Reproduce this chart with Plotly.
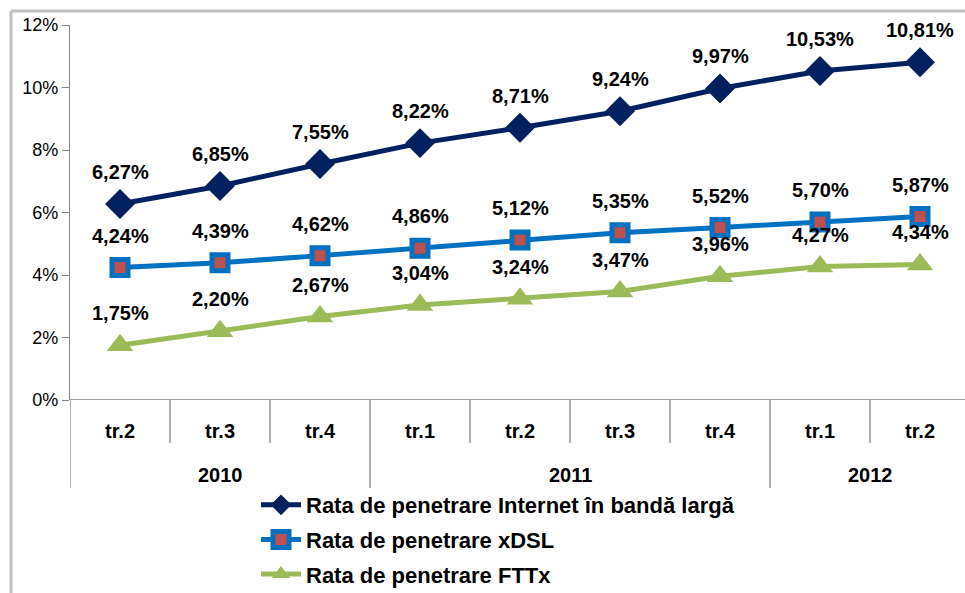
import plotly.graph_objects as go

quarters = ["tr.2", "tr.3", "tr.4", "tr.1", "tr.2", "tr.3", "tr.4", "tr.1", "tr.2"]
years = ["2010", "2011", "2012"]
year_counts = [3, 4, 2]

broadband = [6.27, 6.85, 7.55, 8.22, 8.71, 9.24, 9.97, 10.53, 10.81]
xdsl = [4.24, 4.39, 4.62, 4.86, 5.12, 5.35, 5.52, 5.70, 5.87]
fttx = [1.75, 2.20, 2.67, 3.04, 3.24, 3.47, 3.96, 4.27, 4.34]

series_names = [
    "Rata de penetrare Internet în bandă largă",
    "Rata de penetrare xDSL",
    "Rata de penetrare FTTx",
]

W, H = 965, 593
ML, MR, MT, MB = 70, 0, 25, 193
PW, PH = W - ML - MR, H - MT - MB

FONT = "Liberation Sans"
x = list(range(len(quarters)))
to_frac = [v / 100 for v in broadband], [v / 100 for v in xdsl], [v / 100 for v in fttx]

fig = go.Figure()
styles = [
    dict(color="#002060", symbol="diamond", size=23, fill="#002060", lw=0),
    dict(color="#0070C0", symbol="square", size=16, fill="#C0504D", lw=5),
    dict(color="#9BBB59", symbol="triangle-up", size=23, fill="#9BBB59", lw=0),
]
for i, (vals, name, st) in enumerate(zip(to_frac, series_names, styles)):
    fig.add_trace(go.Scatter(
        x=x, y=vals, name=name, mode="lines+markers",
        line=dict(color=st["color"], width=5),
        marker=dict(symbol=st["symbol"], size=st["size"], color=st["fill"],
                    line=dict(color=st["color"], width=st["lw"])),
        legendgroup=f"g{i}",
        cliponaxis=False,
    ))

# data labels
for vals in (broadband, xdsl, fttx):
    for xi, v in zip(x, vals):
        fig.add_annotation(
            x=xi, y=v / 100, text=f"{v:.2f}%".replace(".", ","),
            showarrow=False, yanchor="middle", yshift=32,
            font=dict(family=FONT, size=20, color="#000000", weight="bold"),
        )

# category axis: quarter labels
for xi, q in zip(x, quarters):
    fig.add_annotation(
        x=xi, y=0, yref="y", text=q, showarrow=False,
        yanchor="middle", yshift=-31,
        font=dict(family=FONT, size=20, color="#000000", weight="bold"),
    )

# year labels and separators
axis_col = "#868686"
start = 0
year_bounds = [-0.5]
for yr, n in zip(years, year_counts):
    center = start + (n - 1) / 2
    fig.add_annotation(
        x=center, y=0, yref="y", text=yr, showarrow=False,
        yanchor="middle", yshift=-75,
        font=dict(family=FONT, size=20, color="#000000", weight="bold"),
    )
    start += n
    year_bounds.append(start - 0.5)

for b in range(len(quarters) + 1):
    pos = b - 0.5
    long = pos in year_bounds
    fig.add_shape(
        type="line", xref="x", yref="paper",
        x0=pos, x1=pos, y0=0, y1=-(88 if long else 43) / PH,
        line=dict(color=axis_col, width=1.3),
    )

# chart-area border (left and top)
bx = (11 - ML) / PW
by = 1 + (MT - 11) / PH
fig.add_shape(type="line", xref="paper", yref="paper", x0=bx, x1=bx, y0=by,
              y1=-(MB + 5) / PH, line=dict(color="#BFBFBF", width=3))
fig.add_shape(type="line", xref="paper", yref="paper", x0=bx, x1=1.02, y0=by,
              y1=by, line=dict(color="#BFBFBF", width=3))

fig.update_layout(
    width=W, height=H,
    margin=dict(l=ML, r=MR, t=MT, b=MB, autoexpand=False),
    paper_bgcolor="white", plot_bgcolor="white",
    font=dict(family=FONT),
    showlegend=True,
    legend=dict(
        x=(256 - ML) / PW, y=-(484 - 400) / PH, xanchor="left", yanchor="top",
        font=dict(family=FONT, size=22, color="#000000", weight="bold"),
        traceorder="grouped", tracegroupgap=3,
        bgcolor="rgba(0,0,0,0)", itemwidth=40,
    ),
    xaxis=dict(
        range=[-0.5, -0.5 + PW / 100], showticklabels=False, ticks="",
        showgrid=False, zeroline=False, showline=False, fixedrange=True,
    ),
    yaxis=dict(
        range=[0, 0.12], dtick=0.02, tickformat=".0%", showgrid=False,
        zeroline=False, showline=True, linecolor=axis_col, linewidth=1.3,
        ticks="outside", ticklen=7, tickcolor=axis_col,
        tickfont=dict(family=FONT, size=18, color="#000000"),
    ),
)
# x-axis baseline
fig.add_shape(type="line", xref="paper", yref="y", x0=0, x1=1, y0=0, y1=0,
              line=dict(color=axis_col, width=1.3))

fig.write_html(
    "out.html",
    config={"displayModeBar": False},
    post_script="document.body.style.margin='0';document.body.style.padding='0';",
)
